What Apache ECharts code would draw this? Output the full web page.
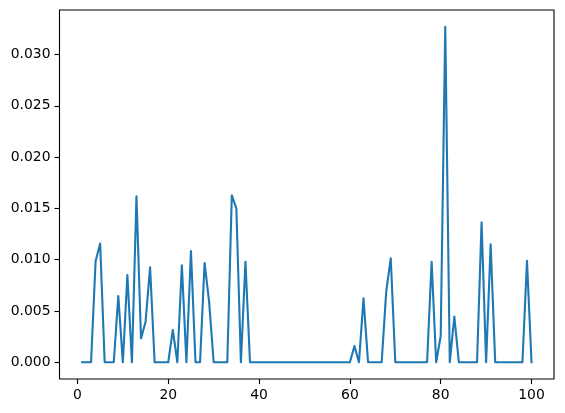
<!DOCTYPE html>
<html>
<head>
<meta charset="utf-8">
<script src="https://cdn.jsdelivr.net/npm/echarts@6/dist/echarts.min.js"></script>
<style>
html,body{margin:0;padding:0;background:#fff;}
#c{width:565px;height:413px;}
</style>
</head>
<body>
<div id="c"></div>
<script>
var xTicks = [0, 20, 40, 60, 80, 100];
var yTicks = [0, 0.005, 0.010, 0.015, 0.020, 0.025, 0.030];
var values = [
  0, 0, 0, 0.00984, 0.01157, 0, 0, 0, 0.00646, 0,
  0.00851, 0, 0.01618, 0.00231, 0.00393, 0.00926, 0, 0, 0, 0,
  0.00315, 0, 0.00945, 0, 0.01085, 0, 0, 0.00968, 0.00588, 0,
  0, 0, 0, 0.01628, 0.01498, 0, 0.00978, 0, 0, 0,
  0, 0, 0, 0, 0, 0, 0, 0, 0, 0,
  0, 0, 0, 0, 0, 0, 0, 0, 0, 0,
  0.00159, 0, 0.00624, 0, 0, 0, 0, 0.00688, 0.01014, 0,
  0, 0, 0, 0, 0, 0, 0, 0.00979, 0, 0.00256,
  0.0327, 0, 0.00445, 0, 0, 0, 0, 0, 0.01364, 0,
  0.0115, 0, 0, 0, 0, 0, 0, 0, 0.0099, 0
];
var steps = values.map(function (v, i) { return i + 1; });
var points = values.map(function (v, i) { return [steps[i], v]; });

var font = { fontFamily: 'DejaVu Sans', fontSize: 13.9, color: '#000' };
var chart = echarts.init(document.getElementById('c'), null, { renderer: 'canvas' });
chart.setOption({
  animation: false,
  backgroundColor: '#fff',
  grid: { left: 59.5, right: 11, top: 10, bottom: 34, show: true, borderColor: '#000', borderWidth: 1.1, backgroundColor: 'transparent' },
  xAxis: {
    type: 'value', min: -3.95, max: 104.95,
    axisLine: { show: false, onZero: false },
    splitLine: { show: false },
    axisTick: { show: true, length: 5, customValues: xTicks, lineStyle: { color: '#000', width: 1.1 } },
    axisLabel: Object.assign({ margin: 9, customValues: xTicks, formatter: function (v) { return String(v); } }, font)
  },
  yAxis: {
    type: 'value', min: -0.001635, max: 0.03434,
    axisLine: { show: false, onZero: false },
    splitLine: { show: false },
    axisTick: { show: true, length: 5, customValues: yTicks, lineStyle: { color: '#000', width: 1.1 } },
    axisLabel: Object.assign({ margin: 9, customValues: yTicks, formatter: function (v) { return v.toFixed(3); } }, font)
  },
  series: [{
    type: 'line', data: points, showSymbol: false, symbol: 'none',
    lineStyle: { color: '#1f77b4', width: 2.1, join: 'round', cap: 'square' },
    clip: true
  }]
});
</script>
</body>
</html>
